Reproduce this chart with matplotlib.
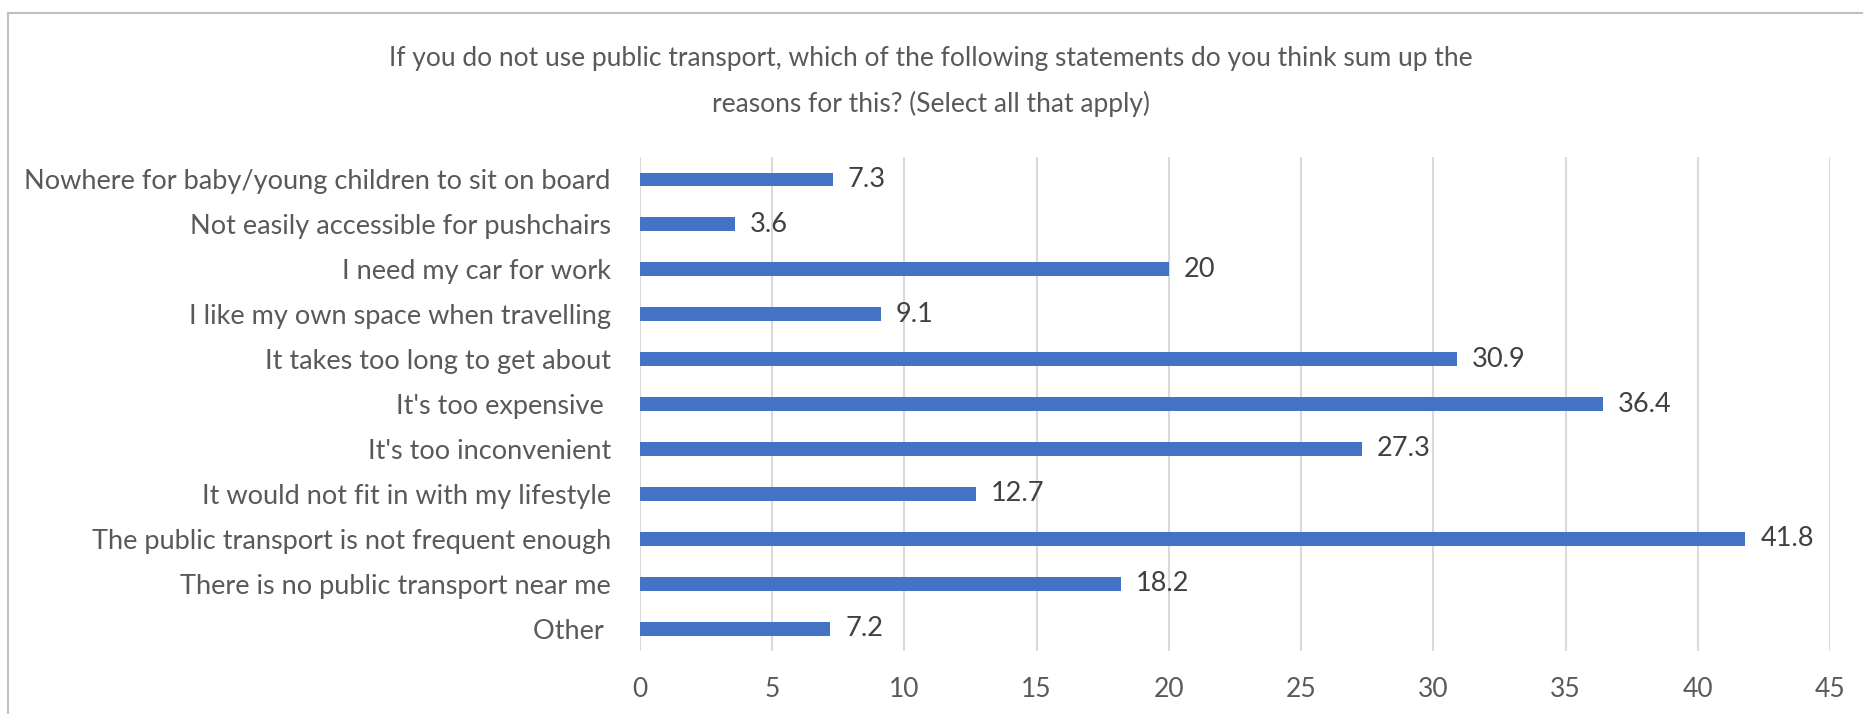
import matplotlib

matplotlib.use("Agg")

import matplotlib.pyplot as plt
from matplotlib.lines import Line2D
import numpy as np

# =====================
# DATA
# =====================

reasons = [
    "Nowhere for baby/young children to sit on board",
    "Not easily accessible for pushchairs",
    "I need my car for work",
    "I like my own space when travelling",
    "It takes too long to get about",
    "It's too expensive ",
    "It's too inconvenient",
    "It would not fit in with my lifestyle",
    "The public transport is not frequent enough",
    "There is no public transport near me",
    "Other ",
]
percent = [7.3, 3.6, 20, 9.1, 30.9, 36.4, 27.3, 12.7, 41.8, 18.2, 7.2]
value_labels = ["7.3", "3.6", "20", "9.1", "30.9", "36.4", "27.3", "12.7", "41.8", "18.2", "7.2"]
x_ticks = [0, 5, 10, 15, 20, 25, 30, 35, 40, 45]

title = ("If you do not use public transport, which of the following statements do you think sum up the\n"
         "reasons for this? (Select all that apply)")

plt.rcParams["font.family"] = ["Lato", "DejaVu Sans"]

fig = plt.figure(figsize=(18.63, 7.14), dpi=100)
ax = fig.add_axes([0.3435, 0.0882, 0.6388, 0.6919])

y = np.arange(len(reasons))

ax.barh(y, percent, height=0.31, color="#4472C4", zorder=3)

for yi, val, lab in zip(y, percent, value_labels):
    ax.annotate(lab, (val, yi), xytext=(15, 0), textcoords="offset pixels",
                va="center", ha="left", fontsize=19.5, color="#404040")

ax.set_yticks(y)
ax.set_yticklabels(reasons, fontsize=19.5, color="#595959")
ax.set_ylim(len(reasons) - 0.5, -0.5)

ax.set_xlim(0, 45)
ax.set_xticks(x_ticks)
ax.set_xticklabels([str(t) for t in x_ticks], fontsize=19, color="#595959")

ax.xaxis.grid(True, color="#D9D9D9", linewidth=1.5, zorder=0)
ax.tick_params(axis="both", length=0)
ax.tick_params(axis="x", pad=19)
ax.tick_params(axis="y", pad=21)
for s in ax.spines.values():
    s.set_visible(False)

fig.text(0.4995, 0.886, title, ha="center", va="center", fontsize=19,
         color="#595959", linespacing=1.95)

# chart frame (top and left edges)
fig.add_artist(Line2D([8 / 1863, 1], [1 - 13 / 714, 1 - 13 / 714],
                      transform=fig.transFigure, color="#BFBFBF", linewidth=1.5))
fig.add_artist(Line2D([8 / 1863, 8 / 1863], [0, 1 - 13 / 714],
                      transform=fig.transFigure, color="#BFBFBF", linewidth=1.5))

plt.savefig("out.png", dpi=100)
plt.close()
